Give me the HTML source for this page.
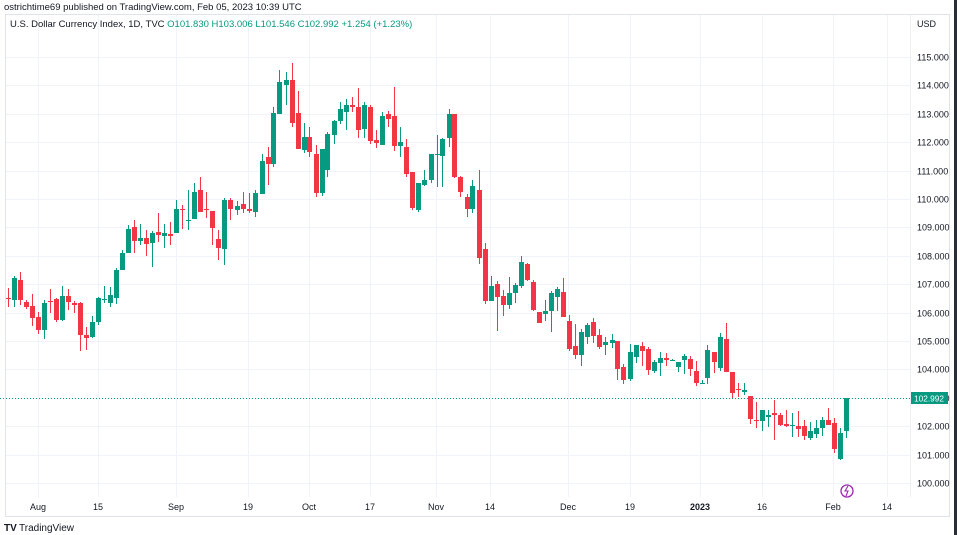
<!DOCTYPE html>
<html><head><meta charset="utf-8"><style>
body{margin:0;width:957px;height:535px;background:#fff;overflow:hidden;font-family:"Liberation Sans",sans-serif}
svg{position:absolute;left:0;top:0}
</style></head><body>
<svg id="s" width="957" height="535" xmlns="http://www.w3.org/2000/svg" font-family="Liberation Sans, sans-serif">
<rect x="0" y="0" width="957" height="535" fill="#fff"/>
<rect x="954" y="0" width="3" height="535" fill="#2a2e39"/>
<g id="grid" stroke="#f0f3fa" stroke-width="1"></g>
<rect x="5.5" y="14.5" width="944" height="502" fill="none" stroke="#e0e3eb"/>
<line x1="910.5" y1="15" x2="910.5" y2="497" stroke="#eef0f4"/>
<line x1="0" y1="398.5" x2="910" y2="398.5" stroke="#089981" stroke-dasharray="1,2"/>
<g id="c"></g>
<text x="4" y="10" font-size="9.5" fill="#131722">ostrichtime69 published on TradingView.com, Feb 05, 2023 10:39 UTC</text>
<text x="10" y="27" font-size="9.5" fill="#131722">U.S. Dollar Currency Index, 1D, TVC <tspan fill="#089981">O101.830 H103.006 L101.546 C102.992 +1.254 (+1.23%)</tspan></text>
<text x="917" y="27" font-size="9" fill="#131722">USD</text>
<g id="ax" font-size="9" fill="#131722"></g>
<rect x="911" y="392" width="37" height="12" fill="#089981"/>
<text x="914" y="401.5" font-size="8.5" fill="#fff" textLength="30" lengthAdjust="spacingAndGlyphs">102.992</text>
<g font-size="9" fill="#131722" text-anchor="middle">
<text x="38" y="510">Aug</text><text x="98" y="510">15</text><text x="176" y="510">Sep</text><text x="248" y="510">19</text><text x="309" y="510">Oct</text><text x="370" y="510">17</text><text x="436" y="510">Nov</text><text x="490" y="510">14</text><text x="568" y="510">Dec</text><text x="630" y="510">19</text><text x="700" y="510" font-weight="bold">2023</text><text x="762" y="510">16</text><text x="833" y="510">Feb</text><text x="887" y="510">14</text>
</g>
<circle cx="847" cy="491" r="6" fill="none" stroke="#9c27b0" stroke-width="1.3"/>
<path d="M848 486 L845 491 L848 491 L846 496" fill="none" stroke="#9c27b0" stroke-width="1.1"/>
<text x="4" y="531" font-size="10" fill="#131722" font-weight="bold">TV</text>
<text x="19" y="531" font-size="10" fill="#131722">TradingView</text>
</svg>
<script>
var ns="http://www.w3.org/2000/svg";
function el(p,t,a,tx){var e=document.createElementNS(ns,t);for(var k in a)e.setAttribute(k,a[k]);if(tx)e.textContent=tx;document.getElementById(p).appendChild(e);}
for(var i=0;i<=15;i++){var y=Math.round(57+i*28.4)+0.5;el("grid","line",{x1:6,x2:910,y1:y,y2:y});
if(y<490)el("ax","text",{x:917,y:y+3},(115-i).toFixed(3));}
[38,98,176,248,309,370,436,490,568,630,700,762,833,887].forEach(function(x){el("grid","line",{x1:x+.5,x2:x+.5,y1:15,y2:497});});
var d=[[8,298,299,288,307],[14,300,278,276,307],[20,280,300,272,305],[26,302,307,300,309],[32,306,318,294,326],[38,317,330,312,334],[44,330,303,300,339],[50,301,302,289,313],[56,299,320,298,322],[62,320,296,286,321],[68,296,302,289,310],[74,303,305,301,313],[80,303,335,302,351],[86,335,338,327,350],[92,337,322,316,338],[98,322,298,297,325],[104,300,299,286,303],[110,303,295,287,307],[116,298,270,268,304],[122,270,253,250,270],[128,253,229,225,253],[134,227,241,220,253],[140,241,238,224,245],[146,238,244,230,256],[152,243,233,231,267],[158,232,235,213,242],[164,236,233,224,248],[170,234,236,222,245],[176,233,209,200,233],[182,209,210,205,229],[188,221,220,190,230],[194,219,192,183,217],[200,190,212,177,212],[206,209,210,192,218],[212,211,228,212,245],[218,239,248,230,260],[224,249,200,198,265],[230,200,209,198,220],[237,210,206,201,215],[243,204,209,192,213],[249,209,211,193,213],[255,212,193,190,217],[262,194,161,154,194],[268,157,164,147,185],[273,164,113,107,167],[279,114,82,70,114],[286,85,80,72,105],[292,80,123,63,127],[298,113,149,91,149],[304,150,137,123,153],[309,137,152,127,157],[316,154,193,145,197],[322,193,149,149,196],[327,170,134,132,177],[334,135,121,120,144],[340,121,109,102,124],[346,112,105,99,130],[352,105,107,97,112],[358,107,130,88,138],[364,129,105,102,138],[370,107,141,105,144],[376,140,143,130,148],[382,145,116,112,145],[388,114,119,111,127],[394,116,146,87,151],[400,146,142,127,157],[406,147,174,139,177],[412,172,208,172,210],[418,210,183,183,212],[424,185,180,170,186],[431,180,154,155,183],[437,155,154,135,187],[442,156,139,138,187],[449,138,114,109,147],[454,114,177,114,178],[460,177,192,176,197],[467,197,209,194,217],[472,209,186,180,213],[479,190,258,170,264],[485,249,301,243,304],[491,301,286,276,301],[497,284,297,281,331],[503,296,305,290,316],[509,305,293,277,309],[515,293,285,283,303],[521,286,262,256,288],[527,264,280,263,281],[533,282,310,280,311],[539,312,323,312,323],[545,314,311,300,321],[551,311,293,291,332],[557,297,289,287,311],[563,292,317,278,317],[569,321,349,315,351],[575,346,355,324,359],[581,355,332,329,366],[587,337,325,323,344],[593,322,336,318,343],[599,335,347,329,349],[605,345,342,337,355],[612,343,340,334,348],[617,341,369,341,380],[623,367,380,364,384],[630,379,352,344,381],[636,357,345,345,363],[642,346,351,342,366],[648,349,370,347,375],[654,371,362,360,373],[660,363,358,352,376],[666,358,360,353,366],[672,360,360,359,361],[678,367,362,362,372],[684,360,356,354,374],[690,359,369,356,376],[696,371,383,361,386],[702,383,383,380,384],[707,378,350,345,384],[714,352,362,352,373],[720,368,337,333,371],[726,339,372,323,372],[732,372,393,372,398],[738,389,390,383,397],[744,392,390,383,395],[750,396,419,396,424],[756,420,421,402,428],[762,421,410,410,431],[768,417,415,410,427],[774,413,415,400,440],[780,415,425,413,426],[786,424,426,410,427],[792,425,425,413,437],[798,426,429,411,437],[804,426,436,420,440],[810,438,431,422,440],[816,434,428,420,438],[822,428,420,417,436],[828,420,425,408,425],[834,423,449,418,453],[840,459,433,428,460],[846,431,398,398,438]];
d.forEach(function(c){var up=c[2]<c[1]||(c[2]==c[1]&&[188,672,702,792].indexOf(c[0])>=0);var col=up?"#089981":"#f23645";
el("c","line",{x1:c[0]+.5,x2:c[0]+.5,y1:c[3],y2:c[4],stroke:col,"stroke-width":1});
var t=Math.min(c[1],c[2]),h=Math.max(1,Math.abs(c[1]-c[2]));el("c","rect",{x:c[0]-2,y:t,width:5,height:h,fill:col});});
</script>
</body></html>
